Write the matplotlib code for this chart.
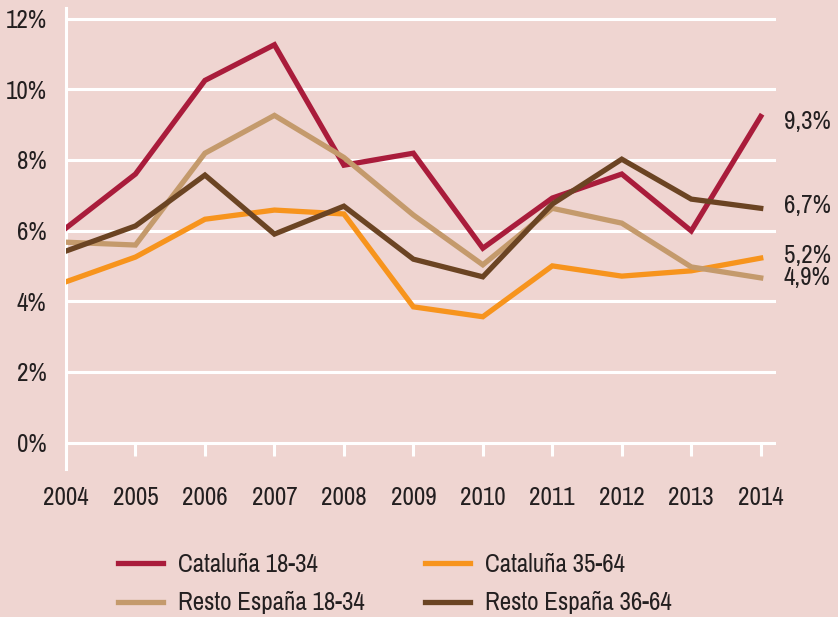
import matplotlib
matplotlib.use("Agg")
import matplotlib.pyplot as plt
from matplotlib import font_manager as fm

years = [2004, 2005, 2006, 2007, 2008, 2009, 2010, 2011, 2012, 2013, 2014]
cat_18_34 = [6.07, 7.6, 10.25, 11.26, 7.85, 8.19, 5.5, 6.92, 7.6, 5.99, 9.23]
cat_35_64 = [4.55, 5.25, 6.32, 6.58, 6.47, 3.84, 3.56, 5.0, 4.71, 4.86, 5.22]
resto_18_34 = [5.67, 5.59, 8.19, 9.26, 8.07, 6.44, 5.03, 6.63, 6.21, 4.97, 4.66]
resto_36_64 = [5.42, 6.13, 7.57, 5.9, 6.69, 5.19, 4.69, 6.75, 8.02, 6.89, 6.63]
series_names = ["Cataluña 18-34", "Cataluña 35-64", "Resto España 18-34", "Resto España 36-64"]
end_labels = ["9,3%", "6,7%", "5,2%", "4,9%"]
end_label_y = [9.1, 6.7, 5.3, 4.68]
yticks = [0, 2, 4, 6, 8, 10, 12]

colors = ["#A91C3B", "#F7941D", "#C49A6C", "#6B4423"]
bg = "#EFD5D1"
txt = "#231F20"

# pick a condensed font if one is installed
chosen = None
for f in fm.fontManager.ttflist:
    if "condensed" in f.name.lower() or "narrow" in f.name.lower():
        if f.weight in (400, "normal", "regular") and f.style == "normal":
            chosen = fm.FontProperties(fname=f.fname)
            break
if chosen is None:
    for f in fm.fontManager.ttflist:
        if f.stretch in ("condensed", "semi-condensed", "extra-condensed") and f.style == "normal":
            chosen = fm.FontProperties(fname=f.fname)
            break
if chosen is None:
    chosen = fm.FontProperties(family="Roboto")
    fsize = 16
else:
    fsize = 18

def fp(size):
    p = chosen.copy()
    p.set_size(size)
    return p

fig = plt.figure(figsize=(8.38, 6.17), dpi=100, facecolor=bg)
ax = fig.add_axes([66/838, 1-469/617, 710/838, 461/617])
ax.set_facecolor(bg)

for yt in yticks:
    ax.axhline(yt, color="white", lw=2.2, zorder=1)
ax.vlines(years, -0.38, 0, color="white", lw=2.2, zorder=1, clip_on=False)

data = [cat_18_34, cat_35_64, resto_18_34, resto_36_64]
handles = []
for vals, c, n in zip(data, colors, series_names):
    h, = ax.plot(years, vals, color=c, lw=3.8, label=n, zorder=3, solid_joinstyle="miter")
    handles.append(h)

for lab, yy in zip(end_labels, end_label_y):
    ax.text(2014.33, yy, lab, fontproperties=fp(fsize), color=txt, va="center", ha="left")

ax.set_xlim(2004, 2014.22)
ax.set_ylim(-0.75, 12.3)
for s in ["top", "right", "bottom"]:
    ax.spines[s].set_visible(False)
ax.spines["left"].set_color("white")
ax.spines["left"].set_linewidth(2.2)
ax.set_yticks(yticks)
ax.set_yticklabels([f"{v}%" for v in yticks], color=txt)
ax.set_xticks(years)
ax.set_xticklabels([str(y) for y in years], color=txt)
for t in ax.get_xticklabels() + ax.get_yticklabels():
    t.set_fontproperties(fp(fsize))
ax.tick_params(axis="both", length=0)
ax.tick_params(axis="y", pad=14)
ax.tick_params(axis="x", pad=12)

order = [0, 2, 1, 3]
leg = fig.legend([handles[i] for i in order], [series_names[i] for i in order],
                 loc="upper left", bbox_to_anchor=(118/838, 1-553/617), ncol=2,
                 frameon=False, prop=fp(fsize), handlelength=1.8, handletextpad=0.6,
                 columnspacing=2.4, labelspacing=0.62, borderaxespad=0, borderpad=0)
for t in leg.get_texts():
    t.set_color(txt)

fig.savefig("out.png", dpi=100, facecolor=bg)
